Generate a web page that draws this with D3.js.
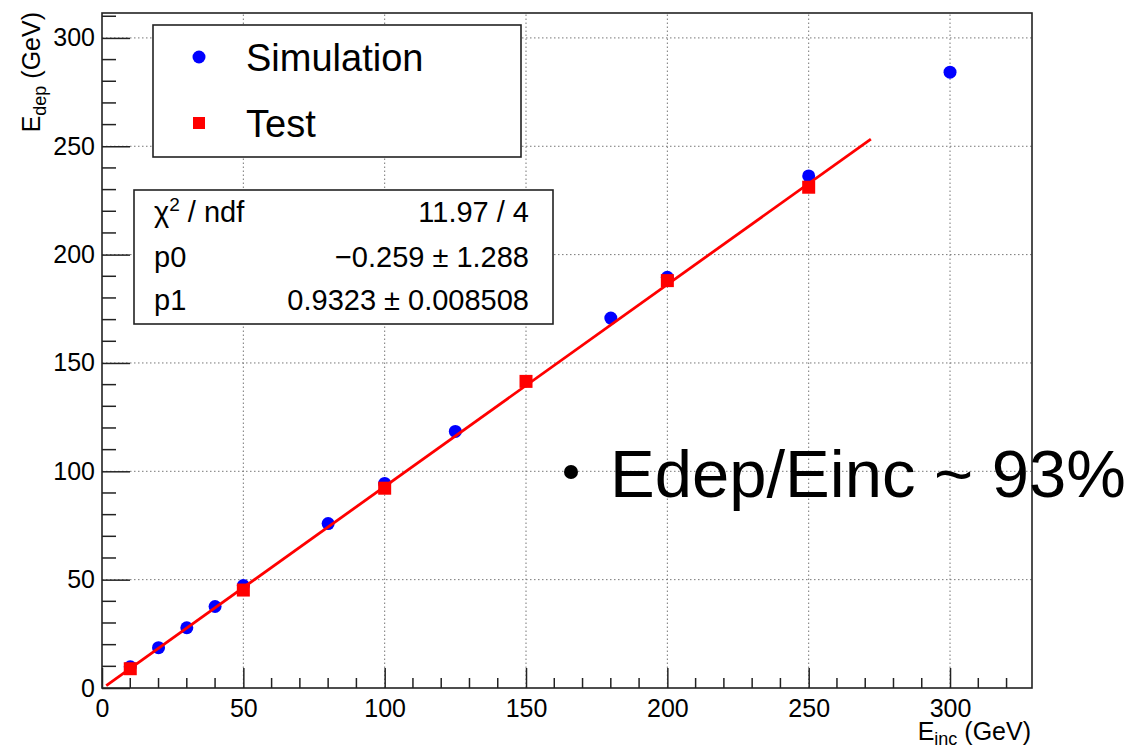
<!DOCTYPE html>
<html>
<head>
<meta charset="utf-8">
<script src="https://cdn.jsdelivr.net/npm/d3@7"></script>
<style>
  html, body { margin: 0; padding: 0; background: #fff; }
  #content { width: 1141px; height: 750px; }
  text { font-family: "Liberation Sans", Arial, Helvetica, sans-serif; fill: #000; }
</style>
</head>
<body>
<div id="content"></div>
<script>
// incident energy (GeV) and deposited energy (GeV)
var simEinc = [10, 20, 30, 40, 50, 80, 100, 125, 180, 200, 250, 300];
var simEdep = [9.8, 18.6, 27.8, 37.6, 47.3, 75.9, 94.4, 118.4, 170.7, 189.5, 236.3, 284.2];
var testEinc = [10, 50, 100, 150, 200, 250];
var testEdep = [8.9, 45.2, 92.2, 141.5, 188.0, 231.1];

// linear fit pol1 drawn over its range
var fitP0 = -0.259;
var fitP1 = 0.9323;
var fitRange = [1.5, 272];

var xMajor = [0, 50, 100, 150, 200, 250, 300];
var yMajor = [0, 50, 100, 150, 200, 250, 300];
var statRows = [
    ["χ", "2", " / ndf", "11.97 / 4"],
    ["p0", "", "", "\u22120.259 \u00b1 1.288"],
    ["p1", "", "", "0.9323 \u00b1 0.008508"]
];
var legendItems = ["Simulation", "Test"];
var note = "Edep/Einc ~ 93%";

(function(d3) {
    var width = 1141, height = 750;
    var margin = {top: 13, right: 109, bottom: 62, left: 102};

    var svg = d3.select("#content").append("svg")
        .attr("width", width).attr("height", height)
        .attr("viewBox", [0, 0, width, height]);

    var x = d3.scaleLinear().domain([0, 329]).range([margin.left, width - margin.right]);
    var y = d3.scaleLinear().domain([0, 311.5]).range([height - margin.bottom, margin.top]);
    var x0 = x.range()[0], x1 = x.range()[1], y0 = y.range()[0], y1 = y.range()[1];

    // dotted grid
    var grid = svg.append("g").attr("stroke", "#777").attr("stroke-width", 1)
        .attr("stroke-dasharray", "1.5,2.5");
    grid.selectAll(".gx").data(xMajor.filter(function(d) { return d > 0; }))
        .enter().append("line")
        .attr("x1", function(d) { return x(d); }).attr("x2", function(d) { return x(d); })
        .attr("y1", y0).attr("y2", y1);
    grid.selectAll(".gy").data(yMajor.filter(function(d) { return d > 0; }))
        .enter().append("line")
        .attr("y1", function(d) { return y(d); }).attr("y2", function(d) { return y(d); })
        .attr("x1", x0).attr("x2", x1);

    // axes with inward ticks
    var xAxis = d3.axisBottom(x).tickValues(xMajor).tickSizeInner(-20).tickSizeOuter(0).tickPadding(11);
    var gx = svg.append("g")
        .attr("transform", "translate(0," + y0 + ")")
        .call(xAxis);
    gx.selectAll(".tick line").attr("stroke", "#222").attr("stroke-width", 1.5);
    gx.selectAll(".tick text").attr("font-size", 25)
        .attr("font-family", "Liberation Sans, Arial, sans-serif");
    gx.select(".domain").remove();
    var xMinor = d3.range(0, 330, 10).filter(function(d) { return d % 50 !== 0; });
    svg.append("g").selectAll("line").data(xMinor).enter().append("line")
        .attr("x1", function(d) { return x(d); }).attr("x2", function(d) { return x(d); })
        .attr("y1", y0).attr("y2", y0 - 10)
        .attr("stroke", "#222").attr("stroke-width", 1.5);

    var yAxis = d3.axisLeft(y).tickValues(yMajor).tickSizeInner(-28).tickSizeOuter(0).tickPadding(7);
    var gy = svg.append("g")
        .attr("transform", "translate(" + x0 + ",0)")
        .call(yAxis);
    gy.selectAll(".tick line").attr("stroke", "#222").attr("stroke-width", 1.5);
    gy.selectAll(".tick text").attr("font-size", 25)
        .attr("font-family", "Liberation Sans, Arial, sans-serif");
    gy.select(".domain").remove();
    var yMinor = d3.range(0, 311, 10).filter(function(d) { return d % 50 !== 0; });
    svg.append("g").selectAll("line").data(yMinor).enter().append("line")
        .attr("y1", function(d) { return y(d); }).attr("y2", function(d) { return y(d); })
        .attr("x1", x0).attr("x2", x0 + 14)
        .attr("stroke", "#222").attr("stroke-width", 1.5);

    // frame
    svg.append("rect")
        .attr("x", x0).attr("y", y1).attr("width", x1 - x0).attr("height", y0 - y1)
        .attr("fill", "none").attr("stroke", "#222").attr("stroke-width", 1.6);

    // axis titles
    var xt = svg.append("text").attr("x", x1 - 1).attr("y", 740)
        .attr("text-anchor", "end").attr("font-size", 25);
    xt.append("tspan").text("E");
    xt.append("tspan").attr("font-size", 18).attr("dy", 5).text("inc");
    xt.append("tspan").attr("dy", -5).text(" (GeV)");

    var yt = svg.append("text")
        .attr("transform", "translate(40," + (y1 - 1) + ") rotate(-90)")
        .attr("text-anchor", "end").attr("font-size", 25);
    yt.append("tspan").text("E");
    yt.append("tspan").attr("font-size", 18).attr("dy", 6).text("dep");
    yt.append("tspan").attr("dy", -6).text(" (GeV)");

    // data
    var sim = simEinc.map(function(d, i) { return [d, simEdep[i]]; });
    var test = testEinc.map(function(d, i) { return [d, testEdep[i]]; });

    svg.append("g").selectAll("circle").data(sim).enter().append("circle")
        .attr("cx", function(d) { return x(d[0]); })
        .attr("cy", function(d) { return y(d[1]); })
        .attr("r", 6.5).attr("fill", "#0000ff");

    svg.append("g").selectAll("rect").data(test).enter().append("rect")
        .attr("x", function(d) { return x(d[0]) - 6.5; })
        .attr("y", function(d) { return y(d[1]) - 6.5; })
        .attr("width", 13).attr("height", 13).attr("fill", "#ff0000");

    svg.append("path")
        .datum(fitRange)
        .attr("fill", "none").attr("stroke", "#ff0000").attr("stroke-width", 2.8)
        .attr("d", d3.line()
            .x(function(d) { return x(d); })
            .y(function(d) { return y(fitP0 + fitP1 * d); }));

    // legend
    svg.append("rect").attr("x", 153).attr("y", 25).attr("width", 368).attr("height", 132)
        .attr("fill", "#fff").attr("stroke", "#222").attr("stroke-width", 1.6);
    svg.append("circle").attr("cx", 199).attr("cy", 57).attr("r", 6.5).attr("fill", "#0000ff");
    svg.append("rect").attr("x", 193).attr("y", 117).attr("width", 12).attr("height", 12).attr("fill", "#ff0000");
    svg.append("text").attr("x", 246).attr("y", 71).attr("font-size", 38).text(legendItems[0]);
    svg.append("text").attr("x", 246).attr("y", 137).attr("font-size", 38).text(legendItems[1]);

    // fit statistics box
    svg.append("rect").attr("x", 134).attr("y", 190).attr("width", 419).attr("height", 134)
        .attr("fill", "#fff").attr("stroke", "#222").attr("stroke-width", 1.6);
    var rowY = [222, 267, 310];
    statRows.forEach(function(r, i) {
        var t = svg.append("text").attr("x", 154).attr("y", rowY[i]).attr("font-size", 29);
        t.append("tspan").text(r[0]);
        if (r[1]) {
            t.append("tspan").attr("font-size", 19).attr("dy", -11).text(r[1]);
            t.append("tspan").attr("dy", 11).text(r[2]);
        }
        svg.append("text").attr("x", 529).attr("y", rowY[i]).attr("font-size", 29)
            .attr("text-anchor", "end").text(r[3]);
    });

    // slide annotation
    svg.append("circle").attr("cx", 571).attr("cy", 472).attr("r", 7).attr("fill", "#000");
    svg.append("text").attr("x", 610).attr("y", 497).attr("font-size", 67).text(note);
})(d3);
</script>
</body>
</html>
